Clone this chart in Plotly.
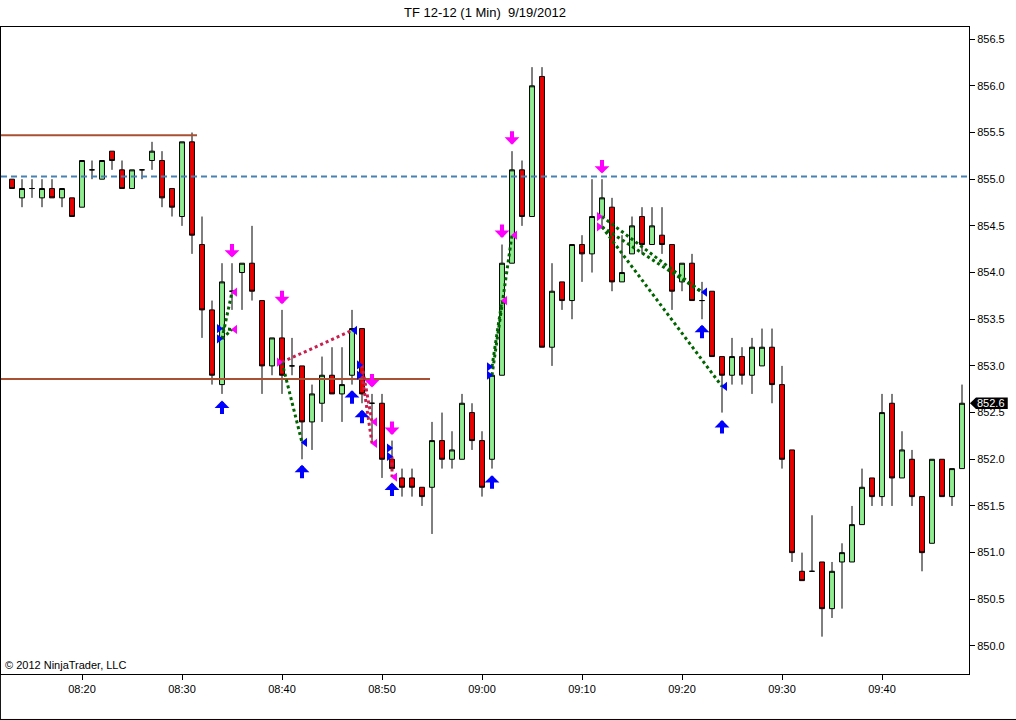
import pandas as pd
import plotly.graph_objects as go

# ---------------- data ----------------
start_time = "2012-09-19 08:13"
n_bars = 96
times = pd.date_range(start_time, periods=n_bars, freq="1min")

opens = [855.0, 854.8, 854.9, 854.8, 854.9, 854.8, 854.8, 854.7, 855.1, 855.0,
         855.3, 855.1, 854.9, 855.1, 855.2, 855.2, 854.9, 854.6, 855.4, 854.3,
         853.6, 852.8, 853.8, 854.0, 854.1, 853.7, 853.0, 853.3, 853.0, 853.0,
         852.4, 852.6, 852.9, 852.7, 852.9, 853.4, 852.6, 852.6, 852.0, 851.8,
         851.8, 851.7, 851.7, 852.2, 852.0, 852.0, 852.5, 852.2, 852.0, 852.9,
         854.1, 855.1, 854.6, 856.1, 853.2, 853.9, 853.7, 854.3, 854.2, 854.6,
         854.7, 853.9, 854.2, 854.6, 854.3, 854.4, 854.3, 853.9, 854.1, 853.7,
         853.8, 853.1, 852.9, 853.1, 852.9, 853.0, 853.2, 852.8, 852.1, 850.8,
         850.8, 850.9, 850.4, 850.9, 850.9, 851.3, 851.8, 851.6, 852.6, 851.8,
         852.0, 851.6, 851.1, 852.0, 851.6, 851.9]
highs = [855.0, 855.0, 855.0, 855.0, 855.0, 854.9, 854.8, 855.2, 855.2, 855.2,
         855.3, 855.2, 855.1, 855.1, 855.4, 855.3, 854.9, 855.4, 855.5, 854.6,
         853.7, 854.1, 854.1, 854.1, 854.5, 853.7, 853.3, 853.6, 853.3, 853.0,
         852.8, 853.1, 853.2, 853.2, 853.6, 853.4, 852.7, 852.7, 852.2, 851.9,
         851.9, 851.7, 852.4, 852.5, 852.3, 852.7, 852.6, 852.3, 852.9, 854.3,
         855.3, 855.2, 856.2, 856.2, 854.1, 853.9, 854.3, 854.4, 855.0, 855.0,
         854.8, 854.4, 854.6, 854.7, 854.7, 854.7, 854.3, 854.1, 854.2, 853.9,
         853.8, 853.1, 853.3, 853.2, 853.3, 853.4, 853.4, 853.0, 852.1, 851.0,
         851.4, 850.9, 850.9, 851.1, 851.5, 851.9, 851.8, 852.7, 852.7, 852.3,
         852.1, 851.6, 852.0, 852.0, 851.9, 852.8]
lows = [854.9, 854.7, 854.8, 854.7, 854.8, 854.7, 854.6, 854.7, 855.0, 855.0,
        855.1, 854.9, 854.9, 855.0, 855.1, 854.7, 854.6, 854.5, 854.2, 853.3,
        852.8, 852.7, 853.6, 853.6, 853.7, 852.7, 852.9, 852.7, 852.9, 852.0,
        852.1, 852.4, 852.7, 852.4, 852.8, 852.6, 852.2, 851.8, 851.9, 851.6,
        851.6, 851.5, 851.2, 851.9, 851.9, 852.0, 852.1, 851.6, 851.9, 852.9,
        854.1, 854.5, 854.6, 853.2, 853.0, 853.6, 853.5, 853.9, 854.0, 854.5,
        853.8, 853.9, 854.2, 854.2, 854.3, 854.2, 853.6, 853.8, 853.7, 853.5,
        853.1, 852.5, 852.8, 852.8, 852.7, 853.0, 852.6, 851.9, 850.9, 850.7,
        850.8, 850.1, 850.3, 850.4, 850.9, 851.3, 851.5, 851.5, 851.5, 851.8,
        851.5, 850.8, 851.1, 851.6, 851.5, 851.9]
closes = [854.9, 854.9, 854.9, 854.9, 854.8, 854.9, 854.6, 855.2, 855.1, 855.2,
          855.2, 854.9, 855.1, 855.1, 855.3, 854.8, 854.7, 855.4, 854.4, 853.6,
          852.9, 853.9, 853.8, 854.1, 853.8, 853.0, 853.3, 852.9, 853.0, 852.4,
          852.7, 852.9, 852.7, 852.8, 853.4, 852.7, 852.6, 852.0, 851.9, 851.7,
          851.7, 851.6, 852.2, 852.0, 852.1, 852.6, 852.2, 851.7, 852.9, 854.1,
          855.1, 854.6, 856.0, 853.2, 853.8, 853.7, 854.3, 854.2, 854.6, 854.8,
          853.9, 854.0, 854.5, 854.3, 854.5, 854.3, 853.8, 854.1, 853.7, 853.7,
          853.1, 852.9, 853.1, 852.9, 853.2, 853.2, 852.8, 852.0, 851.0, 850.7,
          850.8, 850.4, 850.8, 851.0, 851.3, 851.7, 851.6, 852.5, 851.8, 852.1,
          851.6, 851.0, 852.0, 851.6, 851.9, 852.6]

# horizontal levels: (price, start, end)
level_prices = [855.47, 852.86]
level_starts = ["2012-09-19 08:11:54", "2012-09-19 08:11:54"]
level_ends = ["2012-09-19 08:31:30", "2012-09-19 08:54:48"]
dashed_level = 855.03
last_price = 852.6

# signal arrows
sell_times = ["08:35", "08:40", "08:49", "08:51", "09:02", "09:03", "09:12"]
sell_prices = [854.16, 853.66, 852.77, 852.26, 854.37, 855.37, 855.06]
buy_times = ["08:34", "08:42", "08:47", "08:48", "08:51", "09:01", "09:22", "09:24"]
buy_prices = [852.63, 851.94, 852.74, 852.53, 851.75, 851.83, 853.44, 852.42]

# pattern lines: (t0, p0, t1, p1, colour key)
pat_t0 = ["08:34", "08:34", "08:34", "08:40", "08:40", "08:48", "08:48", "08:51",
          "09:01", "09:01", "09:12", "09:12", "09:12"]
pat_p0 = [853.29, 853.40, 853.29, 853.04, 853.04, 853.01, 852.90, 852.03,
          852.90, 852.99, 854.60, 854.49, 854.49]
pat_t1 = ["08:35", "08:35", "08:35", "08:47", "08:42", "08:49", "08:49", "08:51",
          "09:03", "09:02", "09:22", "09:22", "09:24"]
pat_p1 = [853.79, 853.39, 853.39, 853.38, 852.18, 852.40, 852.17, 851.81,
          854.40, 853.70, 853.79, 853.79, 852.78]
pat_kind = ["g", "g", "g", "r", "g", "r", "r", "r", "g", "g", "g", "g", "g"]

# pattern pivot markers
start_mark_t = ["08:34", "08:34", "08:40", "08:48", "08:48", "08:51", "08:51", "09:01", "09:01", "09:12", "09:12"]
start_mark_p = [853.40, 853.29, 853.04, 853.01, 852.90, 852.12, 852.03, 852.99, 852.90, 854.60, 854.49]
start_mark_c = ["b", "b", "m", "b", "b", "b", "b", "b", "b", "m", "m"]
end_mark_t = ["08:35", "08:35", "08:42", "08:47", "08:49", "08:49", "08:51", "09:02", "09:03", "09:22", "09:24"]
end_mark_p = [853.79, 853.39, 852.18, 853.38, 852.40, 852.17, 851.81, 853.70, 854.40, 853.79, 852.78]
end_mark_c = ["m", "m", "b", "b", "m", "m", "m", "m", "m", "b", "b"]

y_ticks = [850.0, 850.5, 851.0, 851.5, 852.0, 852.5, 853.0, 853.5, 854.0, 854.5, 855.0, 855.5, 856.0, 856.5]

# ---------------- styling ----------------
DAY = "2012-09-19 "
GREEN = "rgb(144,238,144)"
RED = "rgb(235,0,0)"
MAG = "#FF00FF"
BLUE = "#0000FF"
DKGREEN = "#006400"
DKRED = "#C8204E"
cmap = {"b": BLUE, "m": MAG, "g": DKGREEN, "r": DKRED}
FONT = "Liberation Sans, Arial, sans-serif"


def ts(hm, shift_min=0.0):
    return pd.Timestamp(DAY + hm) + pd.Timedelta(minutes=shift_min)


fig = go.Figure()

# levels
for p, s, e in zip(level_prices, level_starts, level_ends):
    fig.add_trace(go.Scatter(x=[s, e], y=[p, p], mode="lines",
                             line=dict(color="rgb(170,80,50)", width=2),
                             hoverinfo="skip", showlegend=False))
fig.add_trace(go.Scatter(x=["2012-09-19 08:11:54", "2012-09-19 09:48:42"],
                         y=[dashed_level, dashed_level], mode="lines",
                         line=dict(color="rgb(70,130,180)", width=2, dash="6px,4px"),
                         hoverinfo="skip", showlegend=False))

fig.add_trace(go.Candlestick(
    x=times, open=opens, high=highs, low=lows, close=closes,
    increasing=dict(fillcolor=GREEN, line=dict(color="black", width=1)),
    decreasing=dict(fillcolor=RED, line=dict(color="black", width=1)),
    whiskerwidth=0, showlegend=False, hoverinfo="skip"))

# pattern lines
for t0, p0, t1, p1, k in zip(pat_t0, pat_p0, pat_t1, pat_p1, pat_kind):
    fig.add_trace(go.Scatter(x=[ts(t0), ts(t1)], y=[p0, p1], mode="lines",
                             line=dict(color=cmap[k], width=3, dash="dot"),
                             hoverinfo="skip", showlegend=False))

# pivot markers
fig.add_trace(go.Scatter(x=[ts(t, -0.3) for t in start_mark_t], y=start_mark_p, mode="markers",
                         marker=dict(symbol="triangle-right", size=8,
                                     color=[cmap[c] for c in start_mark_c]),
                         hoverinfo="skip", showlegend=False))
fig.add_trace(go.Scatter(x=[ts(t, 0.3) for t in end_mark_t], y=end_mark_p, mode="markers",
                         marker=dict(symbol="triangle-left", size=8,
                                     color=[cmap[c] for c in end_mark_c]),
                         hoverinfo="skip", showlegend=False))

annotations = []
for t, p in zip(sell_times, sell_prices):
    annotations.append(dict(x=ts(t), y=p, xref="x", yref="y", text="", showarrow=True,
                            ax=0, ay=-15, arrowhead=1, arrowwidth=4, arrowsize=0.62,
                            arrowcolor=MAG, standoff=0))
for t, p in zip(buy_times, buy_prices):
    annotations.append(dict(x=ts(t), y=p, xref="x", yref="y", text="", showarrow=True,
                            ax=0, ay=15, arrowhead=1, arrowwidth=4, arrowsize=0.62,
                            arrowcolor=BLUE, standoff=0))

annotations.append(dict(x=0.002, y=0.002, xref="paper", yref="paper", xanchor="left",
                        yanchor="bottom", text="© 2012 NinjaTrader, LLC", showarrow=False,
                        font=dict(family=FONT, size=11, color="black")))
annotations.append(dict(x=0.5, y=1, xref="paper", yref="paper", yshift=15, yanchor="middle",
                        text="TF 12-12 (1 Min)\u00a0\u00a09/19/2012", showarrow=False,
                        font=dict(family=FONT, size=13, color="black")))
annotations.append(dict(x=1.023, y=last_price, xref="paper", yref="y", xanchor="center",
                        yanchor="middle", text=f"{last_price:.1f}", showarrow=False,
                        font=dict(family=FONT, size=11, color="white")))

shapes = [
    dict(type="path", xref="paper", yref="y", layer="above",
         path=f"M 1.001,{last_price} L 1.0072,{last_price + 0.062} L 1.040,{last_price + 0.062} "
              f"L 1.040,{last_price - 0.062} L 1.0072,{last_price - 0.062} Z",
         fillcolor="black", line=dict(color="black", width=0)),
    dict(type="line", xref="paper", yref="paper", x0=-0.0006, x1=-0.0006, y0=-0.072, y1=1,
         line=dict(color="black", width=1)),
    dict(type="line", xref="paper", yref="paper", x0=-0.0006, x1=1.05, y0=-0.0703, y1=-0.0703,
         line=dict(color="black", width=1)),
]

fig.update_layout(
    width=1016, height=720,
    margin=dict(l=1, r=47, t=27, b=46),
    paper_bgcolor="white", plot_bgcolor="white",
    font=dict(family=FONT, size=11, color="black"),
    showlegend=False,
    annotations=annotations, shapes=shapes,
    xaxis=dict(type="date", range=["2012-09-19 08:11:54", "2012-09-19 09:48:42"],
               rangeslider=dict(visible=False), showgrid=False, zeroline=False,
               showline=True, linecolor="black", linewidth=1, mirror=True,
               ticks="outside", ticklen=5, tickcolor="black",
               dtick=600000, tickformat="%H:%M", tickfont=dict(size=11)),
    yaxis=dict(side="right", range=[849.70, 856.63], showgrid=False, zeroline=False,
               showline=True, linecolor="black", linewidth=1, mirror=True,
               ticks="outside", ticklen=5, tickcolor="black",
               tickvals=y_ticks, ticktext=[f"{v:.1f}" for v in y_ticks],
               tickfont=dict(size=11)),
)

fig.write_html("out.html", config={"displayModeBar": False},
               post_script="document.body.style.margin='0';document.body.style.overflow='hidden';")
